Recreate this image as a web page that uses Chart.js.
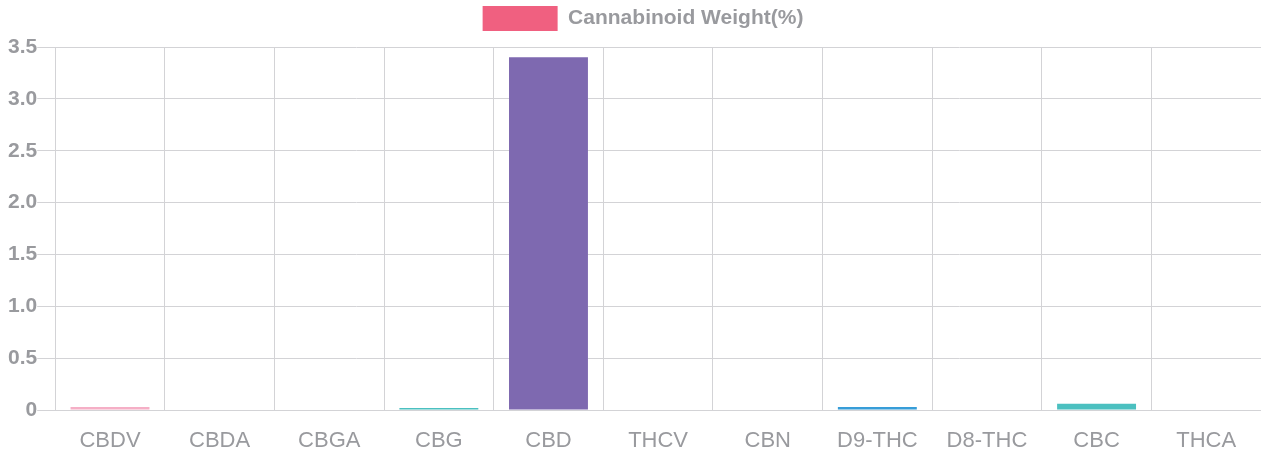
<!DOCTYPE html>
<html>
<head>
<meta charset="utf-8">
<script src="https://cdn.jsdelivr.net/npm/chart.js@4"></script>
<style>
    html, body { margin: 0; padding: 0; background: #fff; }
    #wrap { width: 1261px; height: 455px; position: relative; }
</style>
</head>
<body>
<div id="wrap"><canvas id="chart"></canvas></div>
<script>
const labels = ['CBDV', 'CBDA', 'CBGA', 'CBG', 'CBD', 'THCV', 'CBN', 'D9-THC', 'D8-THC', 'CBC', 'THCA'];
const weights = [0.03, 0, 0, 0.02, 3.4, 0, 0, 0.03, 0, 0.06, 0];
const barColors = ['#f5afc6', '#f5afc6', '#f5afc6', '#4bc0c0', '#7e69b0', '#7e69b0', '#7e69b0', '#379dd8', '#379dd8', '#4bc0c0', '#4bc0c0'];
const yTicks = [0, 0.5, 1, 1.5, 2, 2.5, 3, 3.5];

const legendColor = '#f06080';
const textColor = '#999a9e';
const gridColor = '#d3d3d6';
const fontFamily = 'Liberation Sans, Arial, sans-serif';

// legend sits a bit lower and a bit right of the canvas centre
const legendTweak = {
    id: 'legendTweak',
    beforeInit(chart) {
        const fit = chart.legend.fit;
        chart.legend.fit = function () {
            fit.bind(chart.legend)();
            this.height += 6;
        };
    },
    afterLayout(chart) {
        chart.legend.left += 17;
    }
};

new Chart(document.getElementById('chart'), {
    type: 'bar',
    data: {
        labels: labels,
        datasets: [{
            label: 'Cannabinoid Weight(%)',
            data: weights,
            backgroundColor: barColors,
            borderWidth: 0
        }]
    },
    plugins: [legendTweak],
    options: {
        responsive: true,
        maintainAspectRatio: false,
        animation: false,
        layout: {
            padding: { left: 8, right: 0, top: 0, bottom: 0 }
        },
        plugins: {
            tooltip: { enabled: false },
            legend: {
                position: 'top',
                labels: {
                    boxWidth: 75,
                    boxHeight: 25,
                    padding: 6,
                    color: textColor,
                    font: { family: fontFamily, size: 21, weight: 'bold' },
                    generateLabels: (chart) => {
                        return [{
                            text: chart.data.datasets[0].label,
                            fillStyle: legendColor,
                            strokeStyle: legendColor,
                            lineWidth: 0,
                            fontColor: textColor,
                            datasetIndex: 0
                        }];
                    }
                }
            }
        },
        scales: {
            x: {
                afterFit: (axis) => {
                    axis.height = 45;
                },
                grid: {
                    color: gridColor,
                    drawTicks: false
                },
                border: { color: gridColor },
                ticks: {
                    padding: 18,
                    color: textColor,
                    font: { family: fontFamily, size: 22 }
                }
            },
            y: {
                min: 0,
                max: 3.5,
                afterBuildTicks: (axis) => {
                    axis.ticks = yTicks.map(v => ({ value: v }));
                },
                grid: {
                    color: gridColor,
                    tickLength: 18
                },
                border: { display: false },
                ticks: {
                    padding: 0,
                    color: textColor,
                    font: { family: fontFamily, size: 21, weight: 'bold' }
                }
            }
        }
    }
});
</script>
</body>
</html>
